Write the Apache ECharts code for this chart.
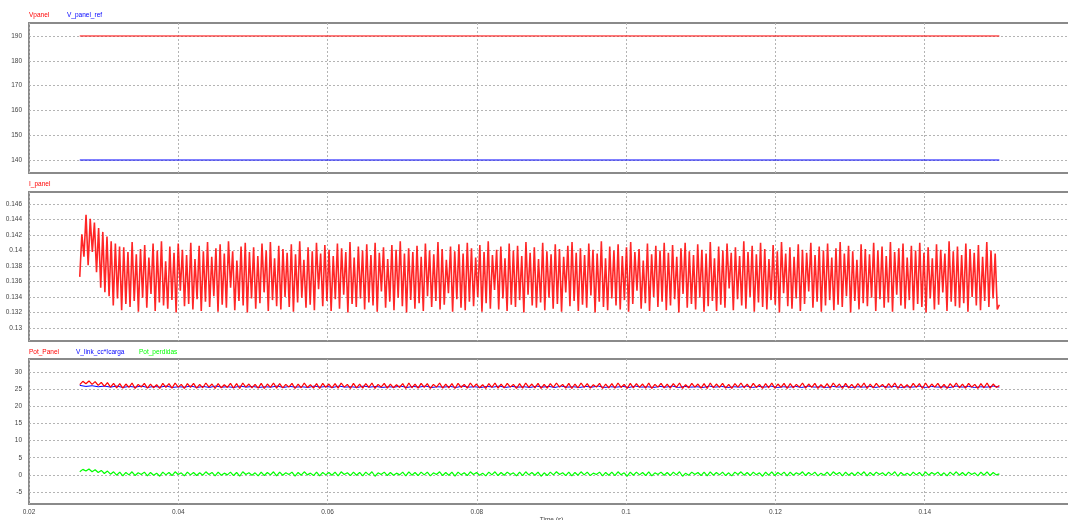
<!DOCTYPE html>
<html>
<head>
<meta charset="utf-8">
<script src="https://cdn.jsdelivr.net/npm/echarts@6/dist/echarts.min.js"></script>
<style>
  html, body { margin: 0; padding: 0; background: #ffffff; }
  #chart { width: 1068px; height: 520px; }
</style>
</head>
<body>
<div id="chart"></div>
<script>
// Simulation window (s) covered by the recorded traces
const T_START = 0.0268;
const T_END = 0.15;

// Tick labels for each panel
const timeTicks = [0.02, 0.04, 0.06, 0.08, 0.1, 0.12, 0.14, 0.16];
const voltTicks = [140, 150, 160, 170, 180, 190];
const currentTicks = [0.13, 0.132, 0.134, 0.136, 0.138, 0.14, 0.142, 0.144, 0.146];
const powerTicks = [-5, 0, 5, 10, 15, 20, 25, 30];

// Panel 1: panel voltage and its reference (V)
const vPanel = [190, 190];
const vPanelRef = [140, 140];

// Panel 2: panel current (A), peak/trough samples
const iPanel = [
  0.1366, 0.1421, 0.1392, 0.1446, 0.1381, 0.1441, 0.1398, 0.1436, 0.1372, 0.1429, 0.1352, 0.1424, 0.1346, 0.1418, 0.1341, 0.1412, 0.1329, 0.1409, 0.1338, 0.1405,
  0.1323, 0.1404, 0.1331, 0.1398, 0.1327, 0.1411, 0.1335, 0.1395, 0.1321, 0.1402, 0.1339, 0.1407, 0.1326, 0.1391, 0.1344, 0.1409, 0.1322, 0.1400, 0.1333, 0.1412,
  0.1329, 0.1386, 0.1325, 0.1405, 0.1336, 0.1397, 0.1320, 0.1409, 0.1348, 0.1401, 0.1328, 0.1394, 0.1331, 0.1410, 0.1324, 0.1389, 0.1337, 0.1406, 0.1322, 0.1399,
  0.1334, 0.1411, 0.1327, 0.1392, 0.1341, 0.1403, 0.1321, 0.1408, 0.1330, 0.1396, 0.1326, 0.1412, 0.1352, 0.1399, 0.1323, 0.1387, 0.1335, 0.1405, 0.1329, 0.1410,
  0.1320, 0.1398, 0.1338, 0.1404, 0.1325, 0.1393, 0.1332, 0.1409, 0.1346, 0.1400, 0.1322, 0.1411, 0.1336, 0.1390, 0.1328, 0.1406, 0.1324, 0.1402, 0.1340, 0.1397,
  0.1327, 0.1408, 0.1321, 0.1395, 0.1333, 0.1412, 0.1339, 0.1388, 0.1326, 0.1404, 0.1330, 0.1399, 0.1323, 0.1410, 0.1350, 0.1396, 0.1328, 0.1407, 0.1335, 0.1401,
  0.1322, 0.1393, 0.1337, 0.1409, 0.1325, 0.1403, 0.1343, 0.1398, 0.1320, 0.1411, 0.1331, 0.1391, 0.1327, 0.1405, 0.1338, 0.1400, 0.1324, 0.1408, 0.1333, 0.1394,
  0.1329, 0.1410, 0.1321, 0.1397, 0.1347, 0.1404, 0.1326, 0.1389, 0.1334, 0.1407, 0.1323, 0.1401, 0.1339, 0.1412, 0.1328, 0.1396, 0.1320, 0.1403, 0.1336, 0.1398,
  0.1325, 0.1406, 0.1332, 0.1392, 0.1322, 0.1409, 0.1341, 0.1400, 0.1327, 0.1395, 0.1335, 0.1411, 0.1324, 0.1402, 0.1330, 0.1388, 0.1345, 0.1405, 0.1321, 0.1399,
  0.1337, 0.1408, 0.1326, 0.1396, 0.1323, 0.1410, 0.1334, 0.1403, 0.1328, 0.1391, 0.1340, 0.1407, 0.1321, 0.1398, 0.1332, 0.1412, 0.1325, 0.1394, 0.1349, 0.1401,
  0.1324, 0.1405, 0.1338, 0.1390, 0.1322, 0.1409, 0.1330, 0.1400, 0.1327, 0.1406, 0.1336, 0.1393, 0.1320, 0.1411, 0.1343, 0.1397, 0.1329, 0.1404, 0.1326, 0.1389,
  0.1333, 0.1410, 0.1323, 0.1399, 0.1339, 0.1395, 0.1325, 0.1408, 0.1331, 0.1402, 0.1321, 0.1392, 0.1346, 0.1406, 0.1328, 0.1411, 0.1335, 0.1397, 0.1322, 0.1403,
  0.1330, 0.1394, 0.1326, 0.1409, 0.1342, 0.1401, 0.1320, 0.1396, 0.1334, 0.1412, 0.1327, 0.1390, 0.1323, 0.1405, 0.1338, 0.1400, 0.1329, 0.1408, 0.1324, 0.1393,
  0.1336, 0.1404, 0.1321, 0.1411, 0.1331, 0.1398, 0.1348, 0.1402, 0.1325, 0.1387, 0.1332, 0.1409, 0.1322, 0.1395, 0.1340, 0.1406, 0.1327, 0.1400, 0.1334, 0.1410,
  0.1323, 0.1397, 0.1329, 0.1407, 0.1337, 0.1392, 0.1320, 0.1403, 0.1344, 0.1410, 0.1326, 0.1399, 0.1331, 0.1394, 0.1324, 0.1408, 0.1339, 0.1401, 0.1321, 0.1396,
  0.1328, 0.1411, 0.1335, 0.1390, 0.1322, 0.1405, 0.1330, 0.1400, 0.1326, 0.1409, 0.1351, 0.1397, 0.1323, 0.1404, 0.1337, 0.1393, 0.1329, 0.1412, 0.1325, 0.1398,
  0.1340, 0.1406, 0.1321, 0.1395, 0.1333, 0.1410, 0.1327, 0.1402, 0.1324, 0.1389, 0.1336, 0.1407, 0.1330, 0.1399, 0.1320, 0.1411, 0.1345, 0.1396, 0.1328, 0.1404,
  0.1325, 0.1392, 0.1338, 0.1408, 0.1322, 0.1401, 0.1331, 0.1397, 0.1347, 0.1410, 0.1326, 0.1394, 0.1334, 0.1405, 0.1321, 0.1400, 0.1329, 0.1409, 0.1336, 0.1391,
  0.1323, 0.1403, 0.1330, 0.1411, 0.1327, 0.1396, 0.1341, 0.1406, 0.1320, 0.1399, 0.1335, 0.1388, 0.1324, 0.1408, 0.1332, 0.1402, 0.1328, 0.1395, 0.1339, 0.1410,
  0.1322, 0.1400, 0.1337, 0.1405, 0.1326, 0.1393, 0.1333, 0.1411, 0.1321, 0.1398, 0.1343, 0.1403, 0.1329, 0.1409, 0.1325, 0.1391, 0.1336, 0.1406, 0.1323, 0.1400,
  0.1331, 0.1410, 0.1327, 0.1397, 0.1320, 0.1404, 0.1338, 0.1390, 0.1324, 0.1408, 0.1330, 0.1401, 0.1346, 0.1396, 0.1322, 0.1412, 0.1334, 0.1399, 0.1328, 0.1405,
  0.1326, 0.1394, 0.1332, 0.1409, 0.1321, 0.1402, 0.1340, 0.1397, 0.1329, 0.1407, 0.1323, 0.1392, 0.1335, 0.1411, 0.1327, 0.1400, 0.1338, 0.1396, 0.1324, 0.1330
];

// Panel 3: powers (W)
const potPanel = [
  26.3, 27.3, 26.6, 27.4, 26.4, 27.2, 26.1, 27.0, 25.8, 26.9, 25.6, 26.7,
  25.4, 26.6, 25.3, 26.5, 25.5, 26.8, 25.2, 26.4, 25.6, 26.7, 25.3, 26.5, 25.4, 26.3, 25.2, 26.7, 25.5, 26.6, 25.3, 26.8, 25.6, 26.4, 25.2, 26.6,
  25.5, 26.7, 25.3, 26.4, 25.4, 26.8, 25.6, 26.5, 25.2, 26.6, 25.4, 26.3, 25.5, 26.7, 25.3, 26.6, 25.2, 26.8, 25.6, 26.5, 25.4, 26.4, 25.3, 26.7,
  25.2, 26.5, 25.5, 26.8, 25.3, 26.6, 25.4, 26.4, 25.6, 26.7, 25.2, 26.5, 25.4, 26.8, 25.5, 26.3, 25.3, 26.6, 25.2, 26.7, 25.5, 26.5, 25.4, 26.6,
  25.3, 26.8, 25.6, 26.4, 25.2, 26.7, 25.4, 26.5, 25.3, 26.6, 25.5, 26.8, 25.2, 26.4, 25.6, 26.7, 25.3, 26.5, 25.4, 26.3, 25.5, 26.6, 25.2, 26.8,
  25.4, 26.5, 25.3, 26.7, 25.5, 26.6, 25.2, 26.4, 25.6, 26.8, 25.3, 26.5, 25.4, 26.6, 25.2, 26.7, 25.5, 26.4, 25.3, 26.8, 25.6, 26.5, 25.4, 26.3,
  25.2, 26.6, 25.5, 26.8, 25.3, 26.5, 25.4, 26.7, 25.6, 26.4, 25.2, 26.6, 25.3, 26.8, 25.5, 26.5, 25.4, 26.7, 25.2, 26.4, 25.3, 26.6, 25.5, 26.8,
  25.6, 26.4, 25.3, 26.7, 25.2, 26.5, 25.4, 26.8, 25.5, 26.6, 25.3, 26.3, 25.6, 26.7, 25.2, 26.5, 25.4, 26.6, 25.3, 26.8, 25.5, 26.4, 25.2, 26.7,
  25.4, 26.6, 25.5, 26.5, 25.3, 26.8, 25.2, 26.4, 25.6, 26.7, 25.4, 26.5, 25.3, 26.6, 25.5, 26.8, 25.2, 26.3, 25.4, 26.7, 25.6, 26.5, 25.3, 26.6,
  25.2, 26.8, 25.4, 26.5, 25.5, 26.7, 25.3, 26.4, 25.2, 26.6, 25.6, 26.8, 25.4, 26.5, 25.3, 26.7, 25.5, 26.4, 25.2, 26.6, 25.4, 26.8, 25.3, 26.5,
  25.5, 26.7, 25.2, 26.6, 25.4, 26.4, 25.6, 26.8, 25.3, 26.5, 25.5, 26.7, 25.2, 26.3, 25.4, 26.6, 25.3, 26.8, 25.6, 26.5, 25.2, 26.7, 25.4, 26.4,
  25.3, 26.6, 25.5, 26.8, 25.2, 26.5, 25.4, 26.7, 25.6, 26.4, 25.3, 26.6, 25.5, 26.8, 25.2, 26.5, 25.4, 26.3, 25.3, 26.7, 25.5, 26.6, 25.2, 26.8,
  25.4, 26.5, 25.6, 26.7, 25.3, 26.4, 25.2, 26.6, 25.5, 26.8, 25.4, 26.5, 25.3, 26.7, 25.6, 26.4, 25.2, 26.6, 25.4, 26.8, 25.3, 26.5, 25.5, 26.1
];

const vLinkIcarga = [
  26.1, 25.8, 26.0, 25.7, 25.9, 25.6, 25.9, 25.5, 25.8, 25.6, 25.9, 25.5, 25.8, 25.6, 25.9, 25.5, 25.7, 25.6, 25.9, 25.5,
  25.8, 25.5, 25.9, 25.6, 25.7, 25.5, 25.9, 25.6, 25.8, 25.5, 25.7, 25.6, 25.9, 25.5, 25.8, 25.6, 25.7, 25.5, 25.9, 25.6, 25.8, 25.5, 25.9, 25.6, 25.7, 25.5,
  25.9, 25.6, 25.8, 25.5, 25.7, 25.6, 25.9, 25.5, 25.8, 25.6, 25.9, 25.5, 25.7, 25.6, 25.8, 25.5, 25.9, 25.6, 25.7, 25.5, 25.8, 25.6, 25.9, 25.5, 25.8, 25.6,
  25.7, 25.5, 25.9, 25.6, 25.8, 25.5, 25.9, 25.6, 25.7, 25.5, 25.8, 25.6, 25.9, 25.5, 25.7, 25.6, 25.8, 25.5, 25.9, 25.6, 25.7, 25.5, 25.8, 25.6, 25.9, 25.5,
  25.8, 25.6, 25.7, 25.5, 25.9, 25.6, 25.8, 25.5, 25.7, 25.6, 25.9, 25.5, 25.8, 25.6, 25.9, 25.5, 25.7, 25.6, 25.8, 25.5, 25.9, 25.6, 25.7, 25.5, 25.8, 25.6,
  25.9, 25.5, 25.7, 25.6, 25.8, 25.5, 25.9, 25.6, 25.8, 25.5, 25.7, 25.6, 25.9, 25.5, 25.8, 25.6, 25.7, 25.5, 25.9, 25.6, 25.8, 25.5, 25.7, 25.6, 25.9, 25.6
];

const potPerdidas = [
  0.9, 1.6, 1.1, 1.7, 0.9, 1.5, 0.7, 1.3, 0.4, 1.1, 0.2, 0.9,
  -0.1, 0.8, -0.3, 0.7, 0.0, 0.9, -0.2, 0.6, 0.1, 0.8, -0.3, 0.7, -0.1, 0.5, -0.4, 0.8, 0.0, 0.7, -0.2, 0.9, 0.1, 0.6, -0.3, 0.8,
  0.0, 0.7, -0.2, 0.6, -0.1, 0.9, 0.1, 0.7, -0.3, 0.8, -0.1, 0.5, 0.0, 0.8, -0.2, 0.7, -0.4, 0.9, 0.1, 0.6, -0.1, 0.6, -0.3, 0.8,
  -0.2, 0.7, 0.0, 0.9, -0.3, 0.8, -0.1, 0.6, 0.1, 0.8, -0.4, 0.7, -0.1, 0.9, 0.0, 0.5, -0.2, 0.8, -0.3, 0.7, 0.0, 0.7, -0.1, 0.8,
  -0.3, 0.9, 0.1, 0.6, -0.2, 0.8, -0.1, 0.7, -0.3, 0.8, 0.0, 0.9, -0.4, 0.6, 0.1, 0.8, -0.2, 0.7, -0.1, 0.5, 0.0, 0.8, -0.3, 0.9,
  -0.1, 0.7, -0.2, 0.8, 0.0, 0.8, -0.3, 0.6, 0.1, 0.9, -0.2, 0.7, -0.1, 0.8, -0.4, 0.8, 0.0, 0.6, -0.2, 0.9, 0.1, 0.7, -0.1, 0.5,
  -0.3, 0.8, 0.0, 0.9, -0.2, 0.7, -0.1, 0.8, 0.1, 0.6, -0.3, 0.8, -0.2, 0.9, 0.0, 0.7, -0.1, 0.8, -0.4, 0.6, -0.2, 0.8, 0.0, 0.9,
  0.1, 0.6, -0.2, 0.8, -0.3, 0.7, -0.1, 0.9, 0.0, 0.8, -0.2, 0.5, 0.1, 0.8, -0.3, 0.7, -0.1, 0.8, -0.2, 0.9, 0.0, 0.6, -0.4, 0.8,
  -0.1, 0.8, 0.0, 0.7, -0.2, 0.9, -0.3, 0.6, 0.1, 0.8, -0.1, 0.7, -0.2, 0.8, 0.0, 0.9, -0.4, 0.5, -0.1, 0.8, 0.1, 0.7, -0.2, 0.8,
  -0.3, 0.9, -0.1, 0.7, 0.0, 0.8, -0.2, 0.6, -0.3, 0.8, 0.1, 0.9, -0.1, 0.7, -0.2, 0.8, 0.0, 0.6, -0.4, 0.8, -0.1, 0.9, -0.2, 0.7,
  0.0, 0.8, -0.3, 0.8, -0.1, 0.6, 0.1, 0.9, -0.2, 0.7, 0.0, 0.8, -0.3, 0.5, -0.1, 0.8, -0.2, 0.9, 0.1, 0.7, -0.3, 0.8, -0.1, 0.6,
  -0.2, 0.8, 0.0, 0.9, -0.3, 0.7, -0.1, 0.8, 0.1, 0.6, -0.2, 0.8, 0.0, 0.9, -0.4, 0.7, -0.1, 0.5, -0.2, 0.8, 0.0, 0.7, -0.3, 0.9,
  -0.1, 0.7, 0.1, 0.8, -0.2, 0.6, -0.3, 0.8, 0.0, 0.9, -0.1, 0.7, -0.2, 0.8, 0.1, 0.6, -0.3, 0.8, -0.1, 0.9, -0.2, 0.7, 0.0, 0.3
];

// Spread a trace's samples evenly over the simulation window
function withTime(values) {
  const n = values.length;
  return values.map((v, i) => [T_START + (T_END - T_START) * i / (n - 1), v]);
}

const FONT = '"Liberation Sans", Arial, sans-serif';
const RED = '#ff0000', BLUE = '#0000ff', GREEN = '#00ff00';
const gridLine = { show: true, lineStyle: { color: '#b4b4b4', type: [2, 2], width: 1 } };

// The time axis runs to 0.16, a few pixels past the right edge of the page
const grids = [
  { left: 29, right: -6, top: 23, height: 150 },
  { left: 29, right: -6, top: 192, height: 149 },
  { left: 29, right: -6, top: 359, height: 145 }
].map(g => Object.assign(g, {
  show: true, borderColor: '#8a8a8a', borderWidth: 2,
  backgroundColor: 'transparent', containLabel: false, outerBoundsMode: 'none'
}));

function xAxisFor(idx, showLabels) {
  return {
    type: 'value', gridIndex: idx,
    min: timeTicks[0], max: timeTicks[timeTicks.length - 1], interval: 0.02,
    axisLine: { show: false }, axisTick: { show: false },
    axisLabel: {
      show: showLabels, fontSize: 6.5, color: '#444', fontFamily: FONT, margin: 5,
      customValues: timeTicks
    },
    splitLine: gridLine,
    name: showLabels ? 'Time (s)' : '',
    nameLocation: 'middle', nameGap: 13,
    nameTextStyle: { fontSize: 6.5, color: '#444', fontFamily: FONT }
  };
}

function yAxisFor(idx, min, max, ticks) {
  return {
    type: 'value', gridIndex: idx, min: min, max: max,
    axisLine: { show: false },
    axisTick: { show: false, customValues: ticks },
    axisLabel: { fontSize: 6.5, color: '#444', fontFamily: FONT, margin: 7, customValues: ticks },
    splitLine: gridLine
  };
}

function trace(name, values, color, idx, z, width, opacity) {
  return {
    name: name, type: 'line', xAxisIndex: idx, yAxisIndex: idx,
    data: withTime(values), showSymbol: false, symbol: 'none',
    sampling: null, animation: false, z: z || 2,
    lineStyle: { color: color, width: width || 1, opacity: opacity == null ? 1 : opacity },
    itemStyle: { color: color }
  };
}

function legendText(text, x, y, color) {
  return { type: 'text', left: x, top: y, silent: true,
    style: { text: text, fill: color, fontSize: 6.5, fontFamily: FONT } };
}

const chart = echarts.init(document.getElementById('chart'), null, { renderer: 'canvas' });
chart.setOption({
  backgroundColor: '#ffffff',
  animation: false,
  grid: grids,
  xAxis: [xAxisFor(0, false), xAxisFor(1, false), xAxisFor(2, true)],
  yAxis: [
    yAxisFor(0, 134.76, 195.24, voltTicks),
    yAxisFor(1, 0.12832, 0.14755, currentTicks),
    yAxisFor(2, -8.5, 33.8, powerTicks)
  ],
  series: [
    trace('Vpanel', vPanel, RED, 0),
    trace('V_panel_ref', vPanelRef, BLUE, 0),
    trace('I_panel', iPanel, RED, 1, 2, 1.6, 0.85),
    trace('V_link_cc*Icarga', vLinkIcarga, BLUE, 2, 2),
    trace('Pot_Panel', potPanel, RED, 2, 3, 1.2),
    trace('Pot_perdidas', potPerdidas, GREEN, 2, 2, 1.2)
  ],
  graphic: [
    legendText('Vpanel', 29, 12, RED),
    legendText('V_panel_ref', 67, 12, BLUE),
    legendText('I_panel', 29, 181, RED),
    legendText('Pot_Panel', 29, 349, RED),
    legendText('V_link_cc*Icarga', 76, 349, BLUE),
    legendText('Pot_perdidas', 139, 349, GREEN)
  ]
});
</script>
</body>
</html>
